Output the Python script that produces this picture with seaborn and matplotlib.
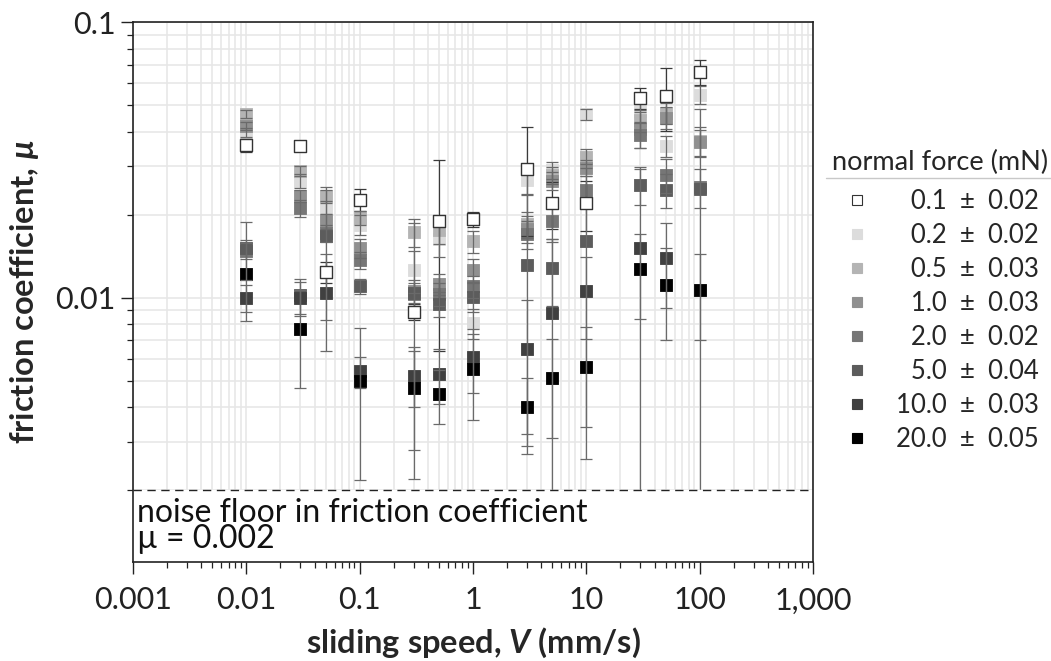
import numpy as np
import pandas as pd
import matplotlib
matplotlib.use("Agg")
import matplotlib.pyplot as plt
import matplotlib.ticker as mticker
from matplotlib.lines import Line2D
import seaborn as sns

nan = np.nan

# sliding speed (mm/s)
speed = [0.01, 0.03, 0.05, 0.1, 0.3, 0.5, 1, 3, 5, 10, 30, 50, 100]

# normal force series (mN), friction coefficient and +/- error
forces = ["0.1", "0.2", "0.5", "1.0", "2.0", "5.0", "10.0", "20.0"]
force_err = ["0.02", "0.02", "0.03", "0.03", "0.02", "0.04", "0.03", "0.05"]

mu_01 = [0.0358, 0.0356, 0.01236, 0.0227, 0.00887, 0.0190, 0.0193, 0.0292, 0.0220, 0.0220, 0.0529, 0.0541, 0.0661]
mu_02 = [0.0398, 0.0265, 0.0213, 0.0184, 0.0126, 0.0163, 0.0081, 0.0268, 0.0290, 0.0462, 0.0475, 0.0355, 0.0545]
mu_05 = [0.0464, 0.0289, 0.0233, 0.0195, 0.01726, 0.0176, 0.0160, 0.0185, 0.0278, 0.0325, 0.0440, 0.0467, 0.0370]
mu_1 = [0.0420, 0.0234, 0.0189, 0.0151, 0.0106, 0.0112, 0.0126, 0.0178, 0.0265, 0.0296, 0.0410, 0.0450, 0.0366]
mu_2 = [0.0148, 0.0211, 0.0171, 0.0137, 0.0103, 0.0103, 0.0110, 0.0170, 0.0189, 0.0246, 0.0390, 0.0279, 0.0252]
mu_5 = [0.0152, 0.0102, 0.0168, 0.0110, 0.0104, 0.0095, 0.0101, 0.0131, 0.0128, 0.0161, 0.0257, 0.0246, 0.0248]
mu_10 = [0.0100, 0.0100, 0.0104, 0.0054, 0.0052, 0.0053, 0.0061, 0.0065, 0.0088, 0.0106, 0.0151, 0.0139, nan]
mu_20 = [0.0122, 0.0077, nan, 0.00498, 0.0047, 0.00448, 0.0055, 0.0040, 0.0051, 0.0056, 0.0127, 0.0111, 0.0107]

err_01 = [0.0019, 0.0008, 0.0011, 0.0021, 0.0006, 0.0126, 0.0012, 0.0125, 0.0042, 0.0045, 0.0046, 0.0139, 0.0068]
err_02 = [0.0015, 0.0015, 0.0012, 0.0015, 0.0022, 0.0022, 0.0010, 0.0030, 0.0020, 0.0020, 0.0040, 0.0030, 0.0040]
err_05 = [0.0015, 0.0012, 0.0012, 0.0012, 0.0020, 0.0020, 0.0015, 0.0020, 0.0020, 0.0020, 0.0040, 0.0040, 0.0045]
err_1 = [0.0015, 0.0012, 0.0012, 0.0012, 0.0010, 0.0010, 0.0012, 0.0020, 0.0020, 0.0020, 0.0060, 0.0040, 0.0040]
err_2 = [0.0010, 0.0015, 0.0012, 0.0010, 0.0010, 0.0010, 0.0010, 0.0020, 0.0030, 0.0030, 0.0040, 0.0040, 0.0040]
err_5 = [0.0036, 0.0015, 0.0085, 0.0007, 0.0082, 0.0010, 0.0012, 0.0104, 0.0035, 0.0135, 0.0040, 0.0035, 0.0235]
err_10 = [0.0011, 0.0014, 0.0040, 0.0007, 0.0012, 0.0012, 0.0016, 0.0033, 0.0075, 0.0035, 0.0143, 0.0047, nan]
err_20 = [0.0040, 0.0030, nan, 0.0028, 0.0019, 0.0010, 0.0019, 0.0011, 0.0020, 0.0022, 0.0043, 0.0041, 0.0037]

colors = ["#ffffff", "#dcdcdc", "#b4b4b4", "#909090", "#767676", "#5c5c5c", "#404040", "#000000"]

x_ticks = [0.001, 0.01, 0.1, 1, 10, 100, 1000]
x_ticklabels = ["0.001", "0.01", "0.1", "1", "10", "100", "1,000"]
y_ticks = [0.01, 0.1]
y_ticklabels = ["0.01", "0.1"]
noise_floor = 0.002

mus = [mu_01, mu_02, mu_05, mu_1, mu_2, mu_5, mu_10, mu_20]
errs = [err_01, err_02, err_05, err_1, err_2, err_5, err_10, err_20]

rows = []
for f, m, e in zip(forces, mus, errs):
    for v, mv, ev in zip(speed, m, e):
        rows.append({"speed": v, "mu": mv, "err": ev, "force": f})
df = pd.DataFrame(rows).dropna()

sns.set_theme(style="white")
plt.rcParams["font.family"] = ["Lato", "DejaVu Sans"]
plt.rcParams["mathtext.fontset"] = "custom"
plt.rcParams["mathtext.it"] = "Lato:italic:bold"
plt.rcParams["mathtext.rm"] = "Lato:bold"

fig = plt.figure(figsize=(10.51, 6.61), dpi=100)
ax = fig.add_axes([133 / 1051, 1 - 562 / 661, 680 / 1051, 540 / 661])

# markers of the heavier loads first, then all error bars, open squares on top
for f, c in zip(forces[1:], colors[1:]):
    sub = df[df["force"] == f]
    sns.scatterplot(data=sub, x="speed", y="mu", ax=ax, marker="s", s=82,
                    color=c, edgecolor=c, linewidth=0.6, zorder=2, legend=False)

for f, c in zip(forces, colors):
    sub = df[df["force"] == f]
    ec = "#3a3a3a" if f == "0.1" else "#6a6a6a"
    ax.errorbar(sub["speed"], sub["mu"], yerr=sub["err"], fmt="none",
                ecolor=ec, elinewidth=0.9, capsize=4, capthick=0.9, zorder=2.2)

sub = df[df["force"] == "0.1"]
sns.scatterplot(data=sub, x="speed", y="mu", ax=ax, marker="s", s=82,
                color="white", edgecolor="#333333", linewidth=1.0, zorder=3, legend=False)

ax.set_xscale("log")
ax.set_yscale("log")
ax.set_xlim(0.001, 1000)
ax.set_ylim(0.0011, 0.1)

# noise floor band
ax.axhspan(0.0011, noise_floor, color="white", zorder=2.5)
ax.axhline(noise_floor, color="#222222", lw=1.0, ls=(0, (6, 4)), zorder=3)
ax.text(0.00108, 0.00187, "noise floor in friction coefficient\n\u00b5 = 0.002",
        fontsize=23, va="top", ha="left", linespacing=0.82, color="#111111", zorder=4)

ax.set_xticks(x_ticks)
ax.set_xticklabels(x_ticklabels)
ax.set_yticks(y_ticks)
ax.set_yticklabels(y_ticklabels)
ax.xaxis.set_minor_locator(mticker.LogLocator(base=10, subs=np.arange(2, 10), numticks=20))
ax.yaxis.set_minor_locator(mticker.LogLocator(base=10, subs=np.arange(2, 10), numticks=20))
ax.xaxis.set_minor_formatter(mticker.NullFormatter())
ax.yaxis.set_minor_formatter(mticker.NullFormatter())
ax.tick_params(which="major", direction="out", length=8.5, width=1, colors="#222222",
               labelsize=22, left=True, bottom=True)
ax.tick_params(axis="x", which="major", pad=9)
ax.tick_params(axis="y", which="major", pad=4)
ax.tick_params(which="minor", direction="out", length=4, width=0.9, colors="#222222",
               left=True, bottom=True)

ax.grid(True, which="both", color="#e6e6e6", lw=1.1)
ax.set_axisbelow(True)
for sp in ax.spines.values():
    sp.set_color("#222222")
    sp.set_linewidth(1.2)

ax.set_xlabel("sliding speed, $\\mathit{V}$ (mm/s)", fontsize=23.5, fontweight="bold", labelpad=8)
ax.set_ylabel("friction coefficient, $\\mathit{\u00b5}$", fontsize=23.5, fontweight="bold", labelpad=10)

handles = []
labels = []
for f, fe, c in zip(forces, force_err, colors):
    ec = "#333333" if f == "0.1" else c
    handles.append(Line2D([], [], ls="none", marker="s", markersize=7.5,
                          markerfacecolor=c, markeredgecolor=ec, markeredgewidth=0.8))
    pad = "\u2007" if len(f) < 4 else ""
    labels.append(f"{pad}{f}  \u00b1  {fe}")

leg = ax.legend(handles, labels, title="normal force (mN)", loc="upper left",
                bbox_to_anchor=(822 / 1051, 1 - 140 / 661), bbox_transform=fig.transFigure,
                frameon=False, fontsize=18.5, title_fontsize=19.5, labelspacing=0.35,
                handletextpad=0.9, borderaxespad=0, handlelength=1.2)
leg._legend_box.sep = 10
fig.add_artist(Line2D([826 / 1051, 1.0], [1 - 178 / 661] * 2, color="#c8c8c8", lw=1.0))

fig.savefig("out.png", dpi=100)
